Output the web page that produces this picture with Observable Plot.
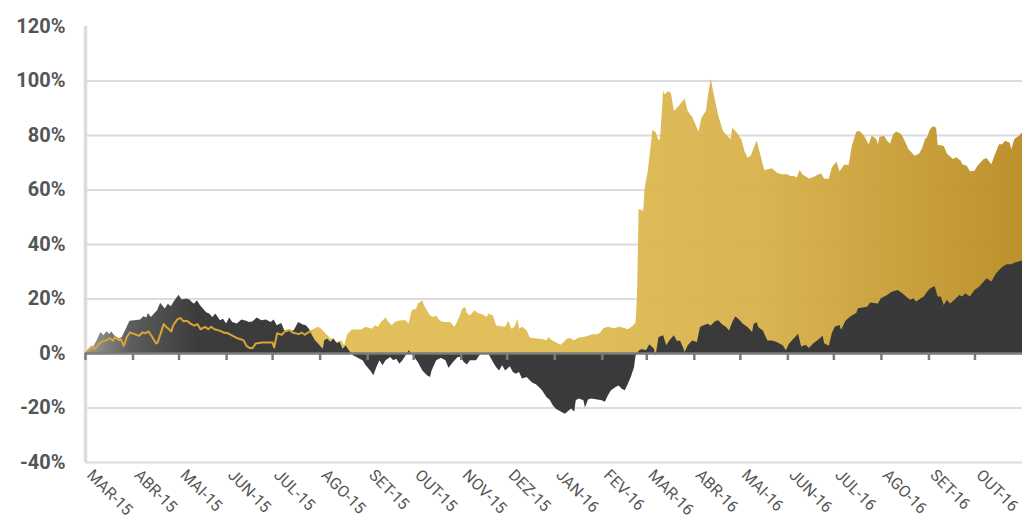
<!DOCTYPE html>
<html><head><meta charset="utf-8">
<script src="https://cdn.jsdelivr.net/npm/d3@7"></script>
<script src="https://cdn.jsdelivr.net/npm/@observablehq/plot@0.6"></script>
<style>
body{margin:0;background:#fff;}
#chart svg{display:block;}
</style></head><body><div id="chart"></div>
<script>
// Dark series (%)
const darkDates = ["2015-03-01","2015-03-03","2015-03-06","2015-03-08","2015-03-11","2015-03-13","2015-03-15","2015-03-17","2015-03-18","2015-03-20","2015-03-23","2015-03-25","2015-03-27","2015-03-30","2015-04-02","2015-04-06","2015-04-08","2015-04-10","2015-04-11","2015-04-13","2015-04-15","2015-04-17","2015-04-19","2015-04-22","2015-04-24","2015-04-26","2015-04-28","2015-05-01","2015-05-03","2015-05-06","2015-05-08","2015-05-11","2015-05-13","2015-05-15","2015-05-19","2015-05-21","2015-05-23","2015-05-25","2015-05-28","2015-05-30","2015-06-01","2015-06-03","2015-06-05","2015-06-08","2015-06-11","2015-06-14","2015-06-16","2015-06-18","2015-06-21","2015-06-24","2015-06-27","2015-06-30","2015-07-02","2015-07-04","2015-07-07","2015-07-09","2015-07-12","2015-07-15","2015-07-18","2015-07-21","2015-07-23","2015-07-25","2015-07-27","2015-07-29","2015-08-01","2015-08-03","2015-08-04","2015-08-06","2015-08-08","2015-08-10","2015-08-12","2015-08-14","2015-08-16","2015-08-18","2015-08-20","2015-08-23","2015-08-25","2015-08-27","2015-08-29","2015-08-31","2015-09-03","2015-09-05","2015-09-07","2015-09-09","2015-09-11","2015-09-13","2015-09-16","2015-09-18","2015-09-20","2015-09-22","2015-09-24","2015-09-26","2015-09-28","2015-10-01","2015-10-04","2015-10-07","2015-10-10","2015-10-12","2015-10-13","2015-10-16","2015-10-19","2015-10-22","2015-10-24","2015-10-27","2015-10-30","2015-11-01","2015-11-03","2015-11-05","2015-11-07","2015-11-11","2015-11-13","2015-11-15","2015-11-19","2015-11-22","2015-11-24","2015-11-26","2015-11-28","2015-11-30","2015-12-03","2015-12-05","2015-12-07","2015-12-09","2015-12-11","2015-12-14","2015-12-16","2015-12-18","2015-12-20","2015-12-22","2015-12-24","2015-12-27","2015-12-29","2015-12-31","2016-01-02","2016-01-04","2016-01-06","2016-01-08","2016-01-10","2016-01-12","2016-01-14","2016-01-15","2016-01-17","2016-01-20","2016-01-21","2016-01-23","2016-01-25","2016-01-29","2016-02-01","2016-02-03","2016-02-05","2016-02-07","2016-02-10","2016-02-12","2016-02-14","2016-02-16","2016-02-18","2016-02-20","2016-02-22","2016-02-23","2016-02-25","2016-02-27","2016-02-29","2016-03-01","2016-03-03","2016-03-06","2016-03-07","2016-03-09","2016-03-12","2016-03-14","2016-03-16","2016-03-19","2016-03-21","2016-03-23","2016-03-25","2016-03-26","2016-03-28","2016-03-31","2016-04-03","2016-04-05","2016-04-07","2016-04-10","2016-04-12","2016-04-15","2016-04-17","2016-04-19","2016-04-22","2016-04-24","2016-04-26","2016-04-28","2016-04-30","2016-05-03","2016-05-06","2016-05-09","2016-05-10","2016-05-12","2016-05-13","2016-05-16","2016-05-19","2016-05-22","2016-05-25","2016-05-29","2016-05-31","2016-06-02","2016-06-05","2016-06-08","2016-06-10","2016-06-13","2016-06-15","2016-06-18","2016-06-21","2016-06-24","2016-06-25","2016-06-28","2016-06-30","2016-07-02","2016-07-05","2016-07-06","2016-07-09","2016-07-12","2016-07-16","2016-07-17","2016-07-23","2016-07-25","2016-07-30","2016-08-01","2016-08-05","2016-08-08","2016-08-12","2016-08-15","2016-08-17","2016-08-20","2016-08-22","2016-08-24","2016-08-27","2016-08-29","2016-08-31","2016-09-02","2016-09-05","2016-09-07","2016-09-09","2016-09-11","2016-09-13","2016-09-15","2016-09-18","2016-09-21","2016-09-23","2016-09-25","2016-09-28","2016-10-01","2016-10-04","2016-10-07","2016-10-09","2016-10-12","2016-10-15","2016-10-19","2016-10-22","2016-10-25","2016-10-27","2016-10-31","2016-11-01"];
const darkValues = [0,1.6,2,4,7.7,6.5,8,7,8,6.5,5.3,5.9,8.3,11.8,12,12.3,13.5,13,14.7,13.2,14.5,15.7,18.4,16.3,18.1,17.2,19.1,21.4,19.6,20,19.6,18.1,19.4,17.5,15,14.5,13.2,14.5,12,12.6,10.8,13,11.4,10.8,12.3,11.8,11.4,11.6,13,12,12.3,11.4,12.3,10.2,11,8.3,8.1,8.3,11.4,10.5,10.2,8.9,6.5,4.7,2.8,1.6,4.7,5.3,4,5.3,3.7,4,1.6,2.8,1,-0.9,-1.5,-2.1,-2.7,-4.5,-6.4,-8.2,-5.1,-2.7,-4.5,-2.7,-1.5,-2.7,-2.1,-3.9,-2.7,-0.9,1,-0.9,-3.3,-6.4,-8.2,-8.8,-6.4,-2.7,-1.7,-2.7,-5.4,-3.3,-1.5,-1.5,-3.3,-4.2,-2.7,-2.7,-0.9,0,-0.2,-3.3,-5.1,-6.4,-4.5,-6.4,-4.9,-7,-7.6,-7,-9.4,-8.8,-10,-11,-11.5,-12.5,-13.7,-16.2,-17.2,-19.2,-20.5,-21.1,-21.7,-22.3,-21.3,-20.4,-21.6,-17.3,-16.7,-17.3,-20,-17.1,-16.7,-17.1,-17.3,-17.9,-15.5,-13.7,-12.5,-11.9,-13.1,-13.7,-11.3,-8.6,-5.2,-1,0.8,1.5,1.1,1.2,3.2,1.6,-1,5.9,6.5,2.8,4.6,6.5,4.4,4.6,2,0.4,2.8,4.6,4,9.5,10.1,10.7,10.1,11.7,12,10.7,9.5,8.3,11.3,13.4,12.6,10.7,9.5,7.7,10.7,11.3,9.5,8.3,4.6,4.6,4,2.8,1,3.4,5.2,7.1,2.4,3,1.8,3.6,4.9,6.3,3.6,2.7,7.3,9.7,10.3,8.5,11.9,13.4,14.8,16.4,17,18.5,18.2,20.1,21.3,22.5,23.1,21.9,20.9,19.5,20.1,18.9,20.1,20.7,22.5,23.7,24.6,20.7,20.7,17.6,19.5,18.2,19.5,21.3,20.7,21.9,20.7,23.1,24.3,26.2,27.4,26.2,29.2,31.6,32.6,32.6,33.1,33.8,34];

// Gold series (%)
const goldDates = ["2015-03-01","2015-03-03","2015-03-05","2015-03-07","2015-03-10","2015-03-12","2015-03-15","2015-03-17","2015-03-19","2015-03-20","2015-03-23","2015-03-24","2015-03-26","2015-03-28","2015-03-30","2015-04-02","2015-04-05","2015-04-07","2015-04-09","2015-04-11","2015-04-13","2015-04-16","2015-04-17","2015-04-21","2015-04-23","2015-04-26","2015-04-27","2015-04-30","2015-05-02","2015-05-04","2015-05-06","2015-05-09","2015-05-11","2015-05-13","2015-05-15","2015-05-18","2015-05-20","2015-05-22","2015-05-24","2015-05-28","2015-05-30","2015-06-02","2015-06-05","2015-06-08","2015-06-12","2015-06-14","2015-06-16","2015-06-18","2015-06-20","2015-06-24","2015-06-27","2015-07-01","2015-07-02","2015-07-04","2015-07-07","2015-07-09","2015-07-12","2015-07-14","2015-07-18","2015-07-20","2015-07-22","2015-07-24","2015-07-26","2015-07-28","2015-07-31","2015-08-02","2015-08-04","2015-08-06","2015-08-08","2015-08-10","2015-08-12","2015-08-15","2015-08-17","2015-08-19","2015-08-22","2015-08-25","2015-08-28","2015-08-31","2015-09-04","2015-09-06","2015-09-08","2015-09-10","2015-09-13","2015-09-15","2015-09-17","2015-09-19","2015-09-21","2015-09-24","2015-09-26","2015-09-28","2015-09-30","2015-10-03","2015-10-04","2015-10-07","2015-10-08","2015-10-12","2015-10-14","2015-10-16","2015-10-18","2015-10-21","2015-10-25","2015-10-28","2015-10-31","2015-11-02","2015-11-04","2015-11-05","2015-11-07","2015-11-10","2015-11-12","2015-11-15","2015-11-18","2015-11-19","2015-11-22","2015-11-24","2015-11-27","2015-11-30","2015-12-02","2015-12-04","2015-12-06","2015-12-08","2015-12-09","2015-12-11","2015-12-14","2015-12-16","2015-12-18","2015-12-24","2015-12-27","2015-12-28","2015-12-31","2016-01-02","2016-01-05","2016-01-07","2016-01-09","2016-01-11","2016-01-14","2016-01-17","2016-01-20","2016-01-23","2016-01-26","2016-01-29","2016-01-31","2016-02-02","2016-02-05","2016-02-09","2016-02-12","2016-02-15","2016-02-18","2016-02-21","2016-02-23","2016-02-24","2016-02-25","2016-02-28","2016-02-29","2016-03-02","2016-03-05","2016-03-07","2016-03-09","2016-03-10","2016-03-12","2016-03-13","2016-03-15","2016-03-17","2016-03-19","2016-03-22","2016-03-26","2016-03-28","2016-03-31","2016-04-02","2016-04-04","2016-04-06","2016-04-09","2016-04-10","2016-04-12","2016-04-14","2016-04-17","2016-04-20","2016-04-23","2016-04-25","2016-04-26","2016-04-29","2016-05-02","2016-05-04","2016-05-06","2016-05-08","2016-05-10","2016-05-12","2016-05-14","2016-05-17","2016-05-19","2016-05-22","2016-05-25","2016-05-28","2016-06-01","2016-06-03","2016-06-05","2016-06-07","2016-06-09","2016-06-11","2016-06-15","2016-06-18","2016-06-21","2016-06-23","2016-06-25","2016-06-28","2016-06-30","2016-07-03","2016-07-05","2016-07-08","2016-07-11","2016-07-13","2016-07-16","2016-07-18","2016-07-21","2016-07-24","2016-07-26","2016-07-29","2016-07-30","2016-07-31","2016-08-03","2016-08-05","2016-08-07","2016-08-09","2016-08-11","2016-08-14","2016-08-16","2016-08-19","2016-08-23","2016-08-26","2016-08-28","2016-08-30","2016-08-31","2016-09-02","2016-09-04","2016-09-06","2016-09-07","2016-09-11","2016-09-13","2016-09-17","2016-09-19","2016-09-22","2016-09-23","2016-09-26","2016-09-28","2016-10-01","2016-10-03","2016-10-07","2016-10-09","2016-10-12","2016-10-14","2016-10-17","2016-10-19","2016-10-21","2016-10-24","2016-10-25","2016-10-27","2016-10-30","2016-11-01"];
const goldValues = [0,1.2,2.5,1.6,3.7,4.4,4.9,5.6,4.7,5.9,4.9,5.3,2.8,6.1,7.7,7.1,6.5,7.7,7.4,8.1,6.5,3.7,4,10.8,9.6,8.1,10.2,12.6,13,11.8,12,10.8,10.2,10.8,8.9,9.8,8.9,9.8,8.9,8.3,7.7,7.4,6.5,5.6,4.9,2.8,2,2,3.7,4,4,4,2.2,7.4,6.9,8.1,8.6,7.7,7.1,7.7,6.9,7.7,8.1,8.9,9.6,8.9,7.7,6.5,5.3,5.3,4,4.7,2.8,6.9,8.6,8.6,8.6,9.6,8.9,10.2,9.6,11.4,13,11.4,10.2,11.4,11.8,12,12,10.8,15.7,16.3,18.1,19.4,17.5,13.8,13.2,13.8,12,11.4,11.4,9.6,13.2,16.3,16.9,14.7,13.8,15.7,14.7,14.2,13.2,14.5,13.8,10.2,9.8,9.6,11.8,8.9,9.6,12.6,8.9,9.6,8.3,5.7,5.5,5.1,4.7,5.9,4.5,3.9,3,3.9,5.1,5.5,4.7,5.7,5.9,6.3,6.9,6.9,7.5,9.1,9.6,9.1,9.6,9.3,8.7,9.9,11.2,21.7,52.8,52.2,60.7,66.8,81.7,81.2,78,78.8,96.3,94.9,96.1,95.5,88.8,90.6,93.4,88.8,86.6,83.9,81.2,86.3,89,93.7,100.7,94.9,87,81.5,79.6,78.4,82.7,80.9,78.4,74.1,71.7,72.3,75.1,78,73.5,67.1,67.4,67.8,66.2,65.6,65.6,65,65,64.4,67.2,65.5,64,64.6,65.5,65.9,63.9,63.9,68.1,70.3,66.7,69.1,69.1,76,81.3,81.5,79.7,76.6,79.7,78.5,76.6,79.3,79.7,77.9,76.9,80.3,81.3,80.5,78.5,74.8,72.4,73.2,75.4,78.8,79.1,82.1,83.3,82.7,76.4,76,73.2,71.2,71.8,70.6,69.3,68.7,66.7,66.9,68.7,71.2,71.5,69.3,72.4,76.6,76.6,77.9,77.2,74.8,78.5,79.7,80.9];

// Axis ticks
const monthTickDates = ["2015-03-01","2015-04-01","2015-05-01","2015-06-01","2015-07-01","2015-08-01","2015-09-01","2015-10-01","2015-11-01","2015-12-01","2016-01-01","2016-02-01","2016-03-01","2016-04-01","2016-05-01","2016-06-01","2016-07-01","2016-08-01","2016-09-01","2016-10-01"];
const monthTickLabels = ["MAR-15","ABR-15","MAI-15","JUN-15","JUL-15","AGO-15","SET-15","OUT-15","NOV-15","DEZ-15","JAN-16","FEV-16","MAR-16","ABR-16","MAI-16","JUN-16","JUL-16","AGO-16","SET-16","OUT-16"];
const yTickValues = [-40,-20,0,20,40,60,80,100,120];
const xDomain = ["2015-03-01","2016-11-01"];
const goldLineUntil = "2015-07-26";

const parse = d3.utcParse("%Y-%m-%d");
const dark = darkDates.map((d, i) => ({date: parse(d), value: darkValues[i]}));
const gold = goldDates.map((d, i) => ({date: parse(d), value: goldValues[i]}));
const lineEnd = parse(goldLineUntil);
const ticks = monthTickDates.map((d, i) => ({date: parse(d), label: monthTickLabels[i]}));
const labelOf = new Map(ticks.map(t => [+t.date, t.label]));

const chart = Plot.plot({
  width: 1024,
  height: 522,
  marginLeft: 85,
  marginRight: 2,
  marginTop: 26,
  marginBottom: 60,
  style: {fontFamily: "Roboto, 'Liberation Sans', sans-serif", background: "#fff", color: "#555"},
  x: {type: "utc", domain: xDomain.map(parse), label: null},
  y: {domain: [-40, 120], label: null},
  marks: [
    Plot.ruleY(yTickValues.filter(v => v !== 0 && v !== 120), {stroke: "#dcdcdc", strokeWidth: 2}),
    Plot.ruleX([parse(xDomain[0])], {stroke: "#dcdcdc", strokeWidth: 3.5}),
    Plot.areaY(gold, {x: "date", y: "value", fill: "url(#goldGrad)", fillOpacity: 0.93}),
    Plot.areaY(dark, {x: "date", y: "value", fill: "url(#darkGrad)"}),
    Plot.lineY(gold.filter(d => d.date <= lineEnd), {x: "date", y: "value", stroke: "#D6A636", strokeWidth: 2}),
    Plot.ruleY([0], {stroke: "#7a7a7a", strokeWidth: 2.5}),
    Plot.ruleX(ticks, {x: "date", y1: 0, y2: 0, insetBottom: -7, stroke: "#7a7a7a", strokeWidth: 2.5}),
    Plot.axisY({ticks: yTickValues, tickFormat: d => `${d}%`, tickSize: 0, tickPadding: 20, fontSize: 20, fontWeight: "bold", label: null}),
    Plot.axisX({ticks: ticks.map(t => t.date), tickFormat: d => labelOf.get(+d), tickSize: 0, tickPadding: 10, tickRotate: 45, textAnchor: "start", fontSize: 16, dx: 4, label: null})
  ]
});

const xr = chart.scale("x").range;
const svg = d3.select(chart);
const defs = svg.insert("defs", ":first-child");
const gg = defs.append("linearGradient").attr("id", "goldGrad").attr("gradientUnits", "userSpaceOnUse")
  .attr("x1", xr[0]).attr("x2", xr[1]).attr("y1", 0).attr("y2", 0);
[[0, "#E1BE52"], [0.5, "#DEBA4E"], [0.72, "#D6B046"], [1, "#B8891D"]].forEach(([o, c]) =>
  gg.append("stop").attr("offset", o).attr("stop-color", c));
const dg = defs.append("linearGradient").attr("id", "darkGrad").attr("gradientUnits", "userSpaceOnUse")
  .attr("x1", xr[0]).attr("x2", xr[1]).attr("y1", 0).attr("y2", 0);
[[0, "#9c9c9c"], [0.05, "#5c5c5c"], [0.12, "#3c3c3c"], [1, "#383838"]].forEach(([o, c]) =>
  dg.append("stop").attr("offset", o).attr("stop-color", c));

document.getElementById("chart").appendChild(chart);
</script>
</body></html>
